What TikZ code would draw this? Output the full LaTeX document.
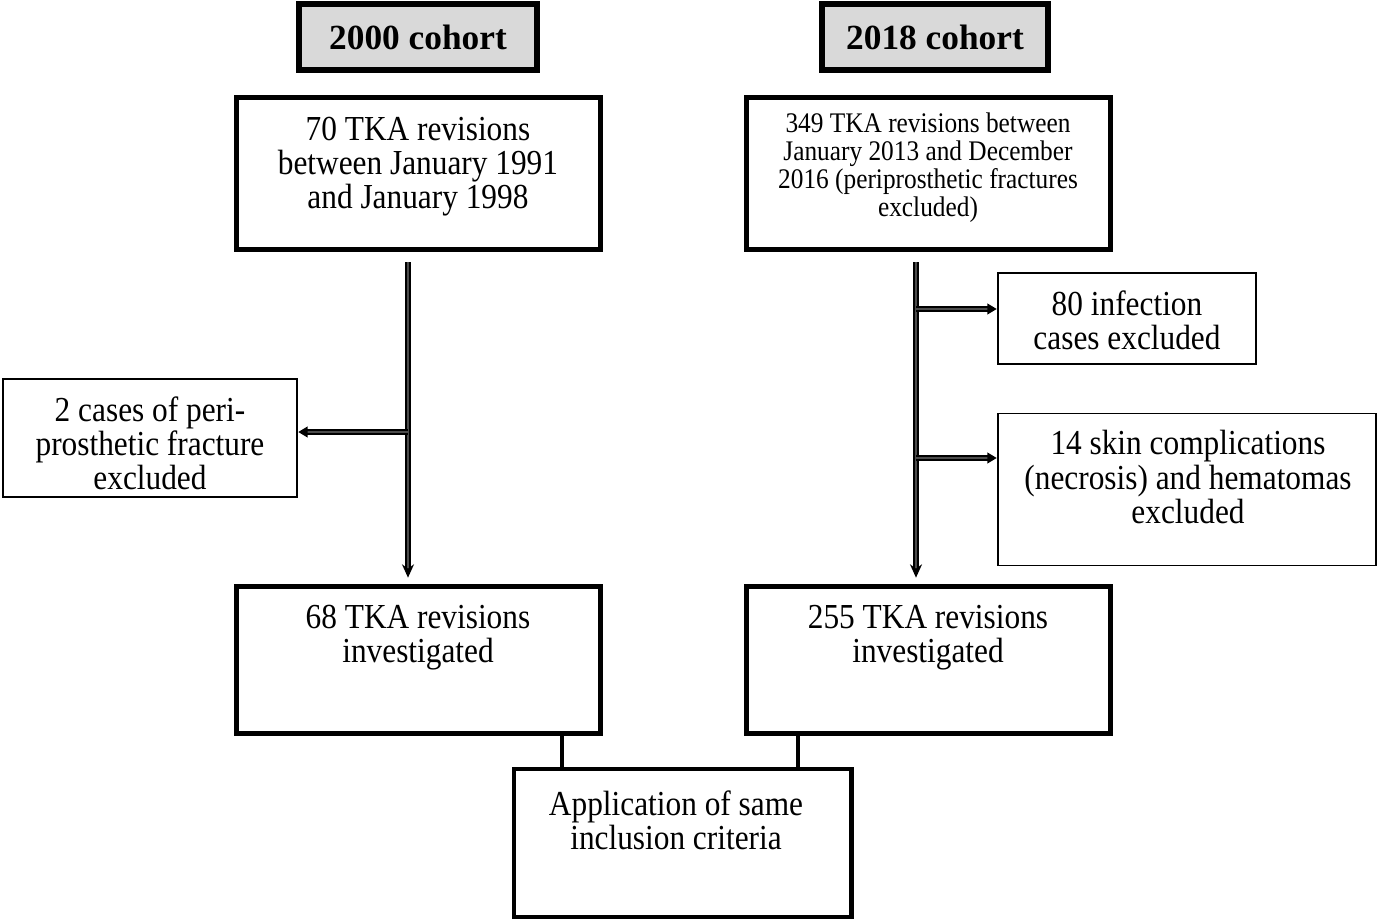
\documentclass[tikz,border=0pt]{standalone}
\usepackage{fontspec}
\setmainfont{Liberation Serif}
\usetikzlibrary{calc,positioning,arrows.meta}
\tikzset{
  hdr/.style={draw, line width=4.5pt, fill=black!15, inner sep=0pt, font=\bfseries\fontsize{26.5}{30}\selectfont},
  bigbox/.style={draw, line width=3.5pt, inner sep=0pt},
  thinbox/.style={draw, line width=1.4pt, inner sep=0pt},
  txt/.style={align=center, inner sep=0pt, yscale=1.12, font=\fontsize{23.5}{22.8}\selectfont},
  smalltxt/.style={txt, font=\fontsize{19}{18.7}\selectfont},
  flow/.style={line width=1.3pt, double=black!70, double distance=1.4pt},
  link/.style={line width=3.5pt}
}
\begin{document}
\begin{tikzpicture}[x=0.75pt,y=0.75pt]
  \useasboundingbox (0,0) rectangle (1378,-920);
  \node[hdr, minimum width=179pt, minimum height=49pt] (h1) at (418,-37) {2000 cohort};
  \node[hdr, minimum width=170pt, minimum height=49pt] (h2) at (935,-37) {2018 cohort};

  \node[bigbox, minimum width=273pt, minimum height=114pt] (a1) at (418.5,-173.5) {};
  \node[bigbox, minimum width=273pt, minimum height=114pt] (b1) at (928.5,-173.5) {};
  \node[thinbox, minimum width=221pt, minimum height=89pt] (l) at (150,-438) {};
  \node[thinbox, minimum width=194pt, minimum height=68pt] (r1) at (1127,-318.5) {};
  \node[thinbox, minimum width=284pt, minimum height=114pt] (r2) at (1187,-489.5) {};
  \node[bigbox, minimum width=273pt, minimum height=110pt] (a2) at (418.5,-660) {};
  \node[bigbox, minimum width=273pt, minimum height=110pt] (b2) at (928.5,-660) {};
  \node[bigbox, minimum width=253pt, minimum height=111pt] (c) at (682.5,-843) {};

  \node[txt] (a1txt) at (418,-167) {70 TKA revisions\\between January 1991\\and January 1998};
  \node[smalltxt] (b1txt) at (928,-168) {349 TKA revisions between\\January 2013 and December\\2016 (periprosthetic fractures\\excluded)};
  \node[txt] (ltxt) at (150,-443) {2 cases of peri-\\prosthetic fracture\\excluded};
  \node[txt] (r1txt) at (1127,-320) {80 infection\\cases excluded};
  \node[txt] (r2txt) at (1188,-477) {14 skin complications\\(necrosis) and hematomas\\excluded};
  \node[txt] (a2txt) at (418,-638) {68 TKA revisions\\investigated};
  \node[txt] (b2txt) at (928,-638) {255 TKA revisions\\investigated};
  \node[txt] (ctxt) at (676,-820) {Application of same\\inclusion criteria};

  \coordinate (ltop) at (408,-262);
  \coordinate (rtop) at (916,-262);
  \coordinate (lmid) at (408,-432);
  \coordinate (rmid1) at (916,-309);
  \coordinate (rmid2) at (916,-458);

  \draw[flow, -{Stealth[length=10pt,width=9pt]}, shorten >=5pt] (ltop) -- (ltop |- a2.north);
  \draw[flow, -{Stealth[length=10pt,width=9pt]}, shorten >=5pt] (rtop) -- (rtop |- b2.north);
  \draw[flow, -{Triangle[length=7pt,width=8pt]}] (lmid) -- (lmid -| l.east);
  \draw[flow, -{Triangle[length=7pt,width=8pt]}] (rmid1) -- (rmid1 -| r1.west);
  \draw[flow, -{Triangle[length=7pt,width=8pt]}] (rmid2) -- (rmid2 -| r2.west);

  \coordinate (cl) at (562,-768);
  \coordinate (cr) at (798,-768);
  \draw[link] (cl |- a2.south) -- (cl);
  \draw[link] (cr |- b2.south) -- (cr);
\end{tikzpicture}
\end{document}
